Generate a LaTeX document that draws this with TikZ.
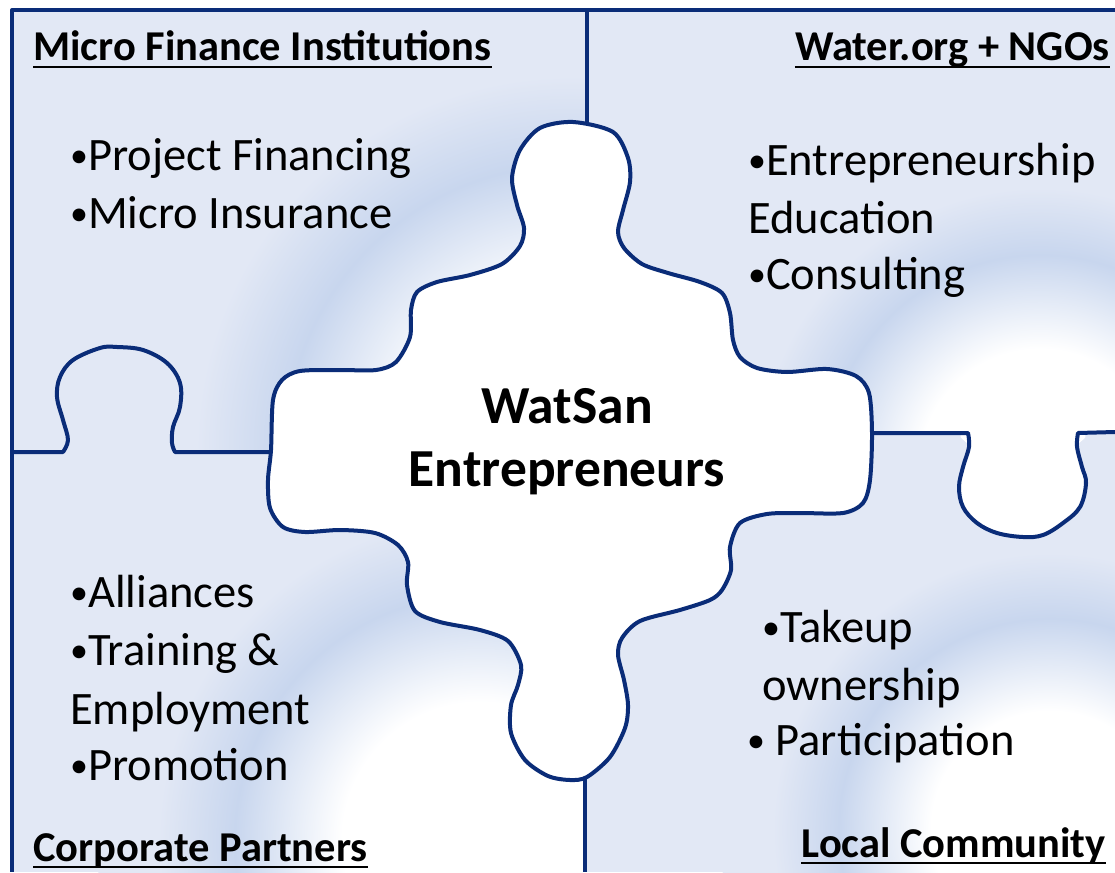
\documentclass[tikz,border=0pt]{standalone}
\usepackage{fontspec}
\setmainfont{Carlito}
\definecolor{pz}{RGB}{10,44,120}
\definecolor{lb}{RGB}{226,232,245}
\definecolor{bb}{RGB}{200,214,238}
\pgfdeclareradialshading{ring}{\pgfpointorigin}{color(0bp)=(white); color(9bp)=(white); color(16bp)=(bb); color(21bp)=(lb); color(25bp)=(lb); color(50bp)=(lb)}
\newcommand\bul{\raisebox{3pt}{\fontsize{36}{36}\selectfont •}}
\begin{document}
\begin{tikzpicture}[x=1pt,y=-1pt,
  edge/.style={draw=pz,line width=4pt,line join=round},
  head/.style={font=\fontsize{42.5}{46}\selectfont\bfseries,inner sep=0pt},
  item/.style={font=\fontsize{46.5}{52}\selectfont,inner sep=0pt,anchor=base west},
  ul/.style={draw=black,line width=2.8pt},
  mid/.style={font=\fontsize{53.5}{58}\selectfont\bfseries,inner sep=0pt,anchor=base}]
\useasboundingbox (0,0) rectangle (1115,872);
\fill[white] (0,0) rectangle (1115,872);
\fill[lb] (12,10) rectangle (1115,872);
% gradients
\begin{scope}
\clip (12,10) rectangle (587,452);
\shade[shading=ring] (570pt,-450pt) circle (445pt);
\end{scope}
\begin{scope}
\clip (587,10) rectangle (1115,433);
\shade[shading=ring] (1040pt,-470pt) circle (336pt);
\end{scope}
\begin{scope}
\clip (12,452) rectangle (585,872);
\shade[shading=ring] (480pt,-840pt) circle (383pt);
\end{scope}
\begin{scope}
\clip (585,433) rectangle (1115,872);
\shade[shading=ring] (1050pt,-830pt) circle (330pt);
\end{scope}
\begin{scope}
\clip plot[smooth cycle,tension=0.6] coordinates {(968,433) (969,447) (963,467) (959,487) (963,507) (977,523) (997,533) (1023,537) (1043,535) (1063,523) (1080,507) (1086,483) (1082,467) (1077,447) (1078,433)};
\shade[shading=ring] (1040pt,-470pt) circle (336pt);
\end{scope}
% frame and dividers
\draw[edge] (1115,10) -- (12,10) -- (12,872);
\draw[edge] (587,10) -- (587,130);
\draw[edge] (585,770) -- (585,872);
\draw[edge] (12,452) -- (63,452) -- plot[smooth,tension=0.6] coordinates {(63,452) (68,440) (63,420) (57,397) (60,377) (73,360) (100,348) (117,347) (143,350) (167,363) (180,383) (180,407) (173,427) (172,443) (175,452)} -- (275,452);
\draw[edge] (866,433) -- (968,433) -- plot[smooth,tension=0.6] coordinates {(968,433) (969,447) (963,467) (959,487) (963,507) (977,523) (997,533) (1023,537) (1043,535) (1063,523) (1080,507) (1086,483) (1082,467) (1077,447) (1078,433)} -- (1115,432);
% centre piece
\draw[edge,fill=white] plot[smooth cycle,tension=0.5] coordinates {(573,122) (613,132) (628,158) (630,182) (623,210) (618,232) (624,248) (642,264) (668,273) (700,282) (722,293) (730,313) (733,340) (740,357) (757,368) (787,372) (827,369) (856,376) (869,393) (872,433) (870,480) (863,503) (843,513) (800,513) (767,514) (740,523) (730,547) (731,570) (722,590) (710,600) (680,610) (640,621) (622,638) (618,655) (624,680) (628,705) (625,728) (610,757) (587,777) (570,780) (548,776) (525,760) (511,733) (511,705) (518,685) (521,665) (508,641) (480,630) (440,622) (415,611) (407,585) (408,562) (398,545) (375,533) (340,530) (305,532) (283,527) (270,508) (268,480) (271,450) (273,400) (282,380) (300,371) (340,370) (376,370) (396,362) (410,337) (411,310) (417,292) (437,282) (470,275) (502,264) (520,246) (524,228) (517,205) (512,178) (520,150) (540,128)};
\node[mid] (ws1) at (567,423) {WatSan};
\node[mid] (ws2) at (567,486) {Entrepreneurs};
% headers
\node[head,anchor=base west] (h1) at (33,61) {Micro Finance Institutions};
\node[head,anchor=base east] (h2) at (1110,61) {Water.org + NGOs};
\node[head,anchor=base west] (h3) at (33,861) {Corporate Partners};
\node[head,anchor=base east] (h4) at (1106,857) {Local Community};
\foreach \h in {h1,h2,h3,h4}{
  \draw[ul] ([yshift=-6pt]\h.base west) -- ([yshift=-6pt]\h.base east);
}
% items
\node[item] (a1) at (70,170) {\bul Project Financing};
\node[item] (a2) at (70,228) {\bul Micro Insurance};
\node[item] (b1) at (748,175) {\bul Entrepreneurship};
\node[item] (b2) at (748,233) {Education};
\node[item] (b3) at (748,289) {\bul Consulting};
\node[item] (c1) at (70,607) {\bul Alliances};
\node[item] (c2) at (70,665) {\bul Training \&};
\node[item] (c3) at (70,724) {Employment};
\node[item] (c4) at (70,780) {\bul Promotion};
\node[item] (d1) at (762,642) {\bul Takeup};
\node[item] (d2) at (762,700) {ownership};
\node[item] (d3) at (747,755) {\bul{} Participation};
\end{tikzpicture}
\end{document}
